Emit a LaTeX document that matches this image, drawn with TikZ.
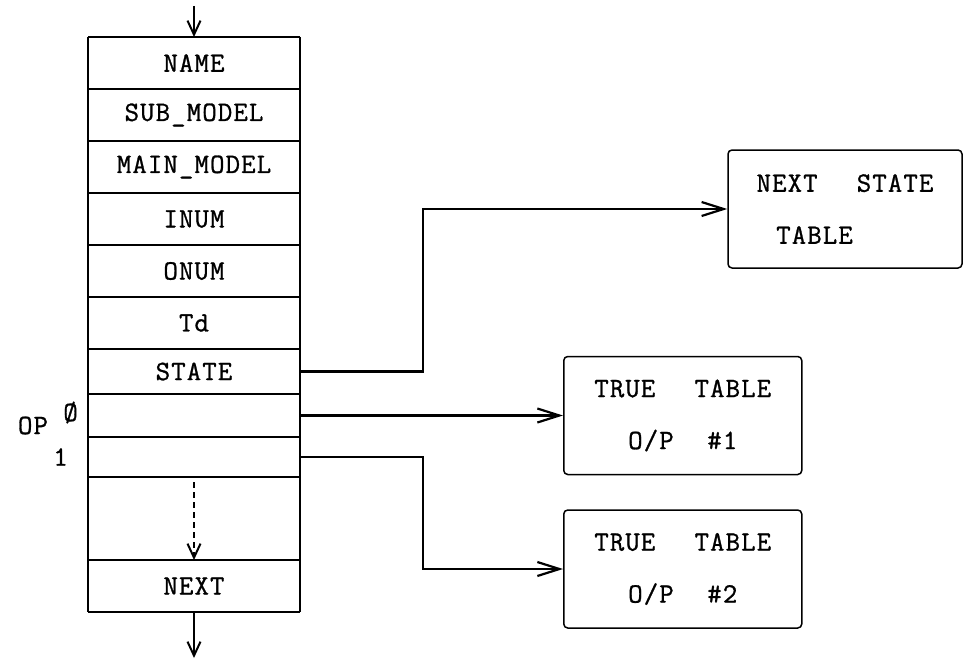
\documentclass[tikz,border=0pt]{standalone}
\usepackage{fontspec}
\newfontfamily\typefont[LetterSpace=4,FakeBold=1]{Latin Modern Mono}
\usetikzlibrary{arrows.meta,positioning}

\begin{document}
\begin{tikzpicture}[
    x=1pt, y=-1pt,
    node distance=0pt,
    field/.style={rectangle, minimum width=212pt, minimum height=52pt, inner sep=0pt, outer sep=0pt, font=\typefont\fontsize{28}{30}\selectfont},
    tablebox/.style={rectangle, draw, line width=1.5pt, rounded corners=4pt, minimum width=238pt, minimum height=118pt, align=left, font=\typefont\fontsize{28}{52}\selectfont},
    label/.style={inner sep=0pt, font=\typefont\fontsize{28}{30}\selectfont},
    sep/.style={line width=2.6pt},
    side/.style={line width=1.2pt},
    arrow/.style={-{Straight Barb[length=22pt,width=14pt]}, line width=2.2pt},
    downarrow/.style={-{Straight Barb[length=14pt,width=13pt]}, line width=2pt},
    dashedarrow/.style={-{Straight Barb[length=14pt,width=13pt]}, line width=2pt, dash pattern=on 6pt off 4pt},
  ]
  \useasboundingbox (0,0) rectangle (965,661);

  % record stack
  \node[field] (name) at (194,63) {NAME};
  \node[field, below=of name] (submodel) {SUB\_MODEL};
  \node[field, below=of submodel] (mainmodel) {MAIN\_MODEL};
  \node[field, below=of mainmodel] (inum) {INUM};
  \node[field, below=of inum] (onum) {ONUM};
  \node[field, below=of onum] (td) {Td};
  \node[field, minimum height=45pt, below=of td] (state) {STATE};
  \node[field, minimum height=43pt, below=of state] (op0) {};
  \node[field, minimum height=40pt, below=of op0] (op1) {};
  \node[field, minimum height=83pt, below=of op1] (gap) {};
  \node[field, below=of gap] (next) {NEXT};

  % stack outline
  \draw[side] (name.north west) -- (next.south west);
  \draw[side] (name.north east) -- (next.south east);
  \foreach \f in {name,submodel,mainmodel,inum,onum,td,state,op0,op1,gap,next}
    \draw[sep] (\f.north west) -- (\f.north east);
  \draw[sep] (next.south west) -- (next.south east);

  % output labels
  \node[label, left=10pt of op0.west, yshift=3pt] (zero) {Ø};
  \node[label, left=20pt of op1.west] (one) {1};
  \node[label, left=15pt of zero, yshift=-13pt] (oplabel) {OP};

  % tables
  \node[tablebox, minimum width=234pt] (nst) at (845,209) {NEXT\hspace{1.4em}STATE\\\hspace*{0.7em}TABLE};
  \node[tablebox, align=center, right=263pt of op0] (tt1) {TRUE\hspace{1.4em}TABLE\\O/P\hspace{1.2em}\#1};
  \node[tablebox, align=center, below=34pt of tt1] (tt2) {TRUE\hspace{1.4em}TABLE\\O/P\hspace{1.2em}\#2};

  % links
  \coordinate (entry) at (194,6);
  \coordinate (exit) at ([yshift=-46pt]next.south);
  \draw[downarrow] (entry) -- (name.north);
  \draw[dashedarrow] ([yshift=-5pt]gap.north) -- (gap.south);
  \draw[downarrow] (next.south) -- (exit);
  \draw[arrow] (state.east) -- ++(123,0) |- (nst.west);
  \draw[arrow] (op0.east) -- (tt1.west);
  \draw[arrow] (op1.east) -- ++(123,0) |- (tt2.west);
\end{tikzpicture}
\end{document}
